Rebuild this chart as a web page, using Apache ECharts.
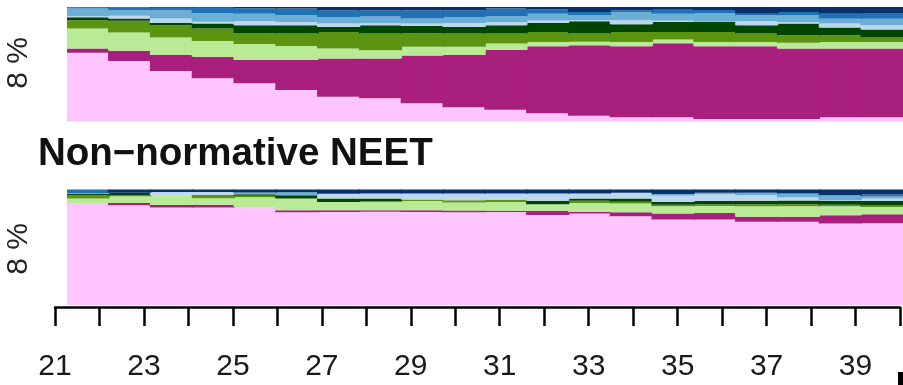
<!DOCTYPE html>
<html>
<head>
<meta charset="utf-8">
<script src="https://cdn.jsdelivr.net/npm/echarts@6/dist/echarts.min.js"></script>
<style>
html,body{margin:0;padding:0;background:#fff;}
#c{width:903px;height:385px;}
</style>
</head>
<body>
<div id="c"></div>
<script>
var ages = ['21','22','23','24','25','26','27','28','29','30','31','32','33','34','35','36','37','38','39','40'];
var stateNames = ['s1','s2','s3','s4','s5','s6','s7','s8','s9'];
var stateColors = ['#FFC5FF','#A91F7D','#B9EA96','#5B9411','#004600','#BDD7EE','#6BAED6','#2171B5','#08306B'];

// top panel (percent per age, bottom to top)
var topPink  = [60.0, 52.8, 44.1, 37.7, 33.4, 27.6, 21.7, 20.3, 16.0, 12.5, 10.2, 7.3, 5.0, 3.8, 3.8, 2.1, 2.1, 2.1, 3.8, 3.8];
var topMag   = [3.8, 9.0, 13.9, 18.8, 20.3, 26.1, 33.4, 34.8, 41.6, 45.5, 52.2, 58.5, 61.7, 62.0, 64.6, 63.7, 63.7, 61.7, 60.0, 60.0];
var topLG    = [17.4, 16.0, 15.4, 13.9, 13.9, 12.2, 8.7, 7.2, 7.7, 7.2, 5.8, 3.7, 2.9, 3.7, 3.2, 3.7, 3.7, 4.9, 5.7, 5.7];
var topG     = [7.2, 10.1, 10.7, 10.8, 9.8, 11.0, 14.4, 14.5, 11.7, 11.7, 8.7, 8.7, 7.3, 8.7, 6.6, 8.7, 7.3, 6.7, 5.8, 3.8];
var topDG    = [2.6, 2.1, 2.0, 4.3, 6.7, 7.2, 4.3, 7.2, 6.3, 5.7, 7.2, 7.8, 10.7, 6.7, 8.7, 8.7, 7.2, 10.2, 6.7, 7.0];
var topLB    = [0.9, 2.3, 3.8, 1.6, 3.7, 2.9, 3.0, 1.7, 2.3, 3.5, 2.6, 2.3, 0.9, 3.5, 1.0, 0.3, 3.7, 1.4, 3.5, 3.7];
var topMB    = [6.7, 5.0, 7.2, 7.4, 6.4, 5.8, 5.7, 6.1, 4.3, 5.2, 5.2, 5.8, 4.3, 7.2, 6.3, 7.3, 5.0, 5.8, 4.3, 5.8];
var topB     = [1.1, 2.2, 2.2, 4.8, 4.6, 5.8, 5.8, 5.2, 7.2, 5.8, 7.0, 3.7, 2.9, 1.5, 3.5, 2.9, 1.5, 2.9, 4.3, 4.9];
var topNavy  = [0.3, 0.5, 0.7, 0.7, 1.2, 1.4, 3.0, 3.0, 2.9, 2.9, 1.1, 2.2, 4.3, 2.9, 2.3, 2.6, 5.8, 4.3, 5.9, 5.3];

// bottom panel: Non-normative NEET
var botPink  = [88.4, 86.4, 84.4, 84.5, 84.9, 80.4, 80.6, 80.7, 80.6, 80.4, 80.5, 77.9, 79.2, 76.9, 74.1, 74.0, 72.1, 72.0, 70.5, 70.7];
var botMag   = [0, 2.0, 2.2, 2.2, 0, 1.7, 1.4, 1.4, 1.4, 1.4, 1.2, 3.7, 1.4, 3.5, 5.2, 5.7, 4.3, 4.3, 7.2, 7.8];
var botLG    = [3.8, 5.8, 8.4, 5.8, 8.4, 10.1, 7.2, 7.2, 8.1, 6.9, 7.5, 5.7, 7.8, 7.5, 6.3, 6.1, 9.2, 9.2, 7.8, 6.3];
var botG     = [2.9, 0.5, 0, 3.0, 1.3, 0, 0, 0.3, 1.2, 2.0, 1.8, 0, 1.8, 1.4, 1.2, 1.4, 1.7, 1.7, 1.2, 1.4];
var botDG    = [0.9, 2.4, 0, 0, 1.3, 2.9, 2.9, 2.6, 0, 0, 0, 2.9, 2.0, 2.9, 2.6, 2.9, 2.9, 3.2, 3.5, 3.8];
var botLB    = [0, 0, 2.9, 2.4, 0, 0, 4.3, 4.3, 5.2, 5.8, 5.5, 6.3, 4.3, 4.9, 5.2, 5.8, 4.9, 2.6, 0.6, 2.3];
var botMB    = [1.0, 0, 0, 0, 1.5, 2.6, 0, 0, 0, 0, 0, 0, 0, 0, 1.4, 1.2, 2.0, 3.5, 4.3, 1.7];
var botB     = [3.0, 0, 0, 0, 0, 0, 0, 0, 0, 0, 0, 0, 0, 0, 0, 0, 0, 0, 0, 1.7];
var botNavy  = [0, 2.9, 2.1, 2.1, 2.6, 2.3, 3.6, 3.5, 3.5, 3.5, 3.5, 3.5, 3.5, 2.9, 4.0, 2.9, 2.9, 3.5, 4.9, 4.3];

var panelTitle = 'Non\u2212normative NEET';
var yLabel = '8 %';
var axisMin = 21, axisMax = 40;

var topSeriesData = [topPink, topMag, topLG, topG, topDG, topLB, topMB, topB, topNavy];
var botSeriesData = [botPink, botMag, botLG, botG, botDG, botLB, botMB, botB, botNavy];

var series = [];
function addPanel(dataSets, idx, stackName) {
  dataSets.forEach(function (d, i) {
    series.push({
      type: 'bar', name: stateNames[i], stack: stackName,
      xAxisIndex: idx, yAxisIndex: idx,
      data: d, barWidth: 43.2, barGap: '-100%',
      itemStyle: { color: stateColors[i], borderWidth: 0 },
      silent: true, animation: false
    });
  });
}
addPanel(topSeriesData, 0, 'top');
addPanel(botSeriesData, 1, 'bot');

var hiddenCat = function (gi) {
  return { type: 'category', gridIndex: gi, data: ages, show: false, boundaryGap: true };
};
var hiddenVal = function (gi) {
  return { type: 'value', gridIndex: gi, min: 0, max: 100, show: false };
};

var chart = echarts.init(document.getElementById('c'), null, { renderer: 'canvas' });
chart.setOption({
  animation: false,
  backgroundColor: '#ffffff',
  title: {
    text: panelTitle, left: 33, top: 130,
    textStyle: { fontFamily: '"Liberation Sans", Arial, sans-serif', fontSize: 38.5, fontWeight: 'bold', color: '#111' }
  },
  grid: [
    { left: 67, width: 840, top: 7, height: 114.5 },
    { left: 67, width: 840, top: 189.5, height: 115.5 },
    { left: 55, width: 845, top: 300, height: 7 }
  ],
  xAxis: [
    hiddenCat(0), hiddenCat(1),
    {
      type: 'value', gridIndex: 2, min: axisMin, max: axisMax, interval: 1,
      axisLine: { show: true, lineStyle: { color: '#000', width: 2.5 } },
      axisTick: { show: true, length: 19, lineStyle: { color: '#000', width: 2.5 } },
      splitLine: { show: false },
      axisLabel: {
        margin: 45, fontSize: 30, color: '#1a1a1a', fontFamily: '"Liberation Sans", Arial, sans-serif',
        formatter: function (v) { return (v % 2 === 1) ? String(v) : ''; }
      }
    }
  ],
  yAxis: [hiddenVal(0), hiddenVal(1), { type: 'value', gridIndex: 2, show: false }],
  series: series,
  graphic: [
    { type: 'text', x: 19, y: 63, rotation: Math.PI / 2,
      style: { text: yLabel, font: '30px "Liberation Sans", Arial, sans-serif', fill: '#222', align: 'center', verticalAlign: 'middle' } },
    { type: 'text', x: 19, y: 249, rotation: Math.PI / 2,
      style: { text: yLabel, font: '30px "Liberation Sans", Arial, sans-serif', fill: '#222', align: 'center', verticalAlign: 'middle' } },
    { type: 'rect', shape: { x: 898, y: 372, width: 5, height: 13 }, style: { fill: '#000' } }
  ]
});
</script>
</body>
</html>
